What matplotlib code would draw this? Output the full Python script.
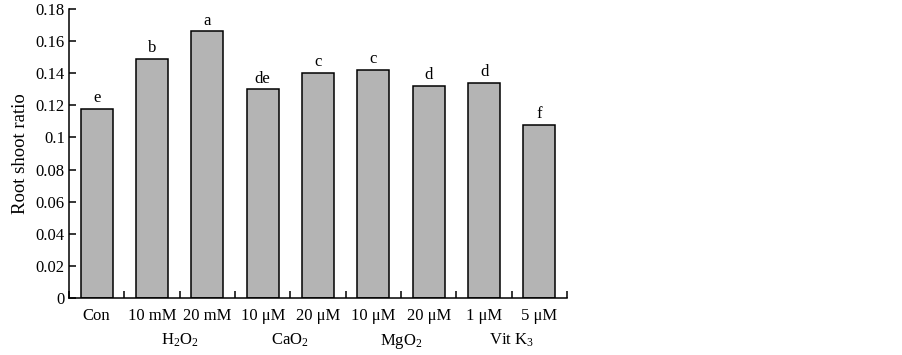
import matplotlib
matplotlib.use('Agg')
import matplotlib.pyplot as plt
import matplotlib.transforms as mtransforms

plt.rcParams['font.family'] = ['Liberation Serif', 'DejaVu Serif']
plt.rcParams['mathtext.fontset'] = 'custom'
plt.rcParams['mathtext.rm'] = 'Liberation Serif'
plt.rcParams['mathtext.it'] = 'Liberation Serif:italic'

# data
doses = ['Con', '10 mM', '20 mM', '10 μM', '20 μM', '10 μM', '20 μM', '1 μM', '5 μM']
ratio = [0.118, 0.149, 0.166, 0.130, 0.140, 0.142, 0.132, 0.134, 0.108]
letters = ['e', 'b', 'a', 'de', 'c', 'c', 'd', 'd', 'f']
groups = ['H$_2$O$_2$', 'CaO$_2$', 'MgO$_2$', 'Vit K$_3$']
group_pos = [1.5, 3.5, 5.5, 7.5]
yticks = [0, 0.02, 0.04, 0.06, 0.08, 0.1, 0.12, 0.14, 0.16, 0.18]
ytick_labels = ['0', '0.02', '0.04', '0.06', '0.08', '0.1', '0.12', '0.14', '0.16', '0.18']

fs = 12

fig = plt.figure(figsize=(9.03, 3.55), dpi=100)
ax = fig.add_axes([0.0764, 0.1606, 0.5516, 0.814])

x = list(range(len(doses)))
ax.bar(x, ratio, width=0.58, color='#b4b4b4', edgecolor='black', linewidth=1.1)

# significance letters
for xi, v, l in zip(x, ratio, letters):
    ax.annotate(l, (xi, v), xytext=(0, 2), textcoords='offset points',
                ha='center', va='bottom', fontsize=fs)

ax.set_xlim(-0.5, len(doses) - 0.5)
ax.set_ylim(0, 0.18)
ax.set_yticks(yticks)
ax.set_yticklabels(ytick_labels, fontsize=fs)
ax.set_ylabel('Root shoot ratio', fontsize=13.5, labelpad=5)

# boundary ticks (major) without labels, category labels on minor ticks
ax.set_xticks([i - 0.5 for i in range(len(doses) + 1)])
ax.set_xticklabels([])
ax.set_xticks(x, minor=True)
ax.set_xticklabels(doses, minor=True, fontsize=fs)
ax.tick_params(axis='x', which='major', direction='in', length=5, width=1.1)
ax.tick_params(axis='x', which='minor', length=0, pad=7)
ax.tick_params(axis='y', direction='in', length=5, width=1.1, pad=3)

trans = mtransforms.blended_transform_factory(ax.transData, ax.transAxes)
for gx, g in zip(group_pos, groups):
    ax.text(gx, -0.163, g, transform=trans, ha='center', va='baseline', fontsize=fs)

ax.spines['top'].set_visible(False)
ax.spines['right'].set_visible(False)
ax.spines['left'].set_linewidth(1.1)
ax.spines['bottom'].set_linewidth(1.1)

fig.savefig('out.png', dpi=100)
